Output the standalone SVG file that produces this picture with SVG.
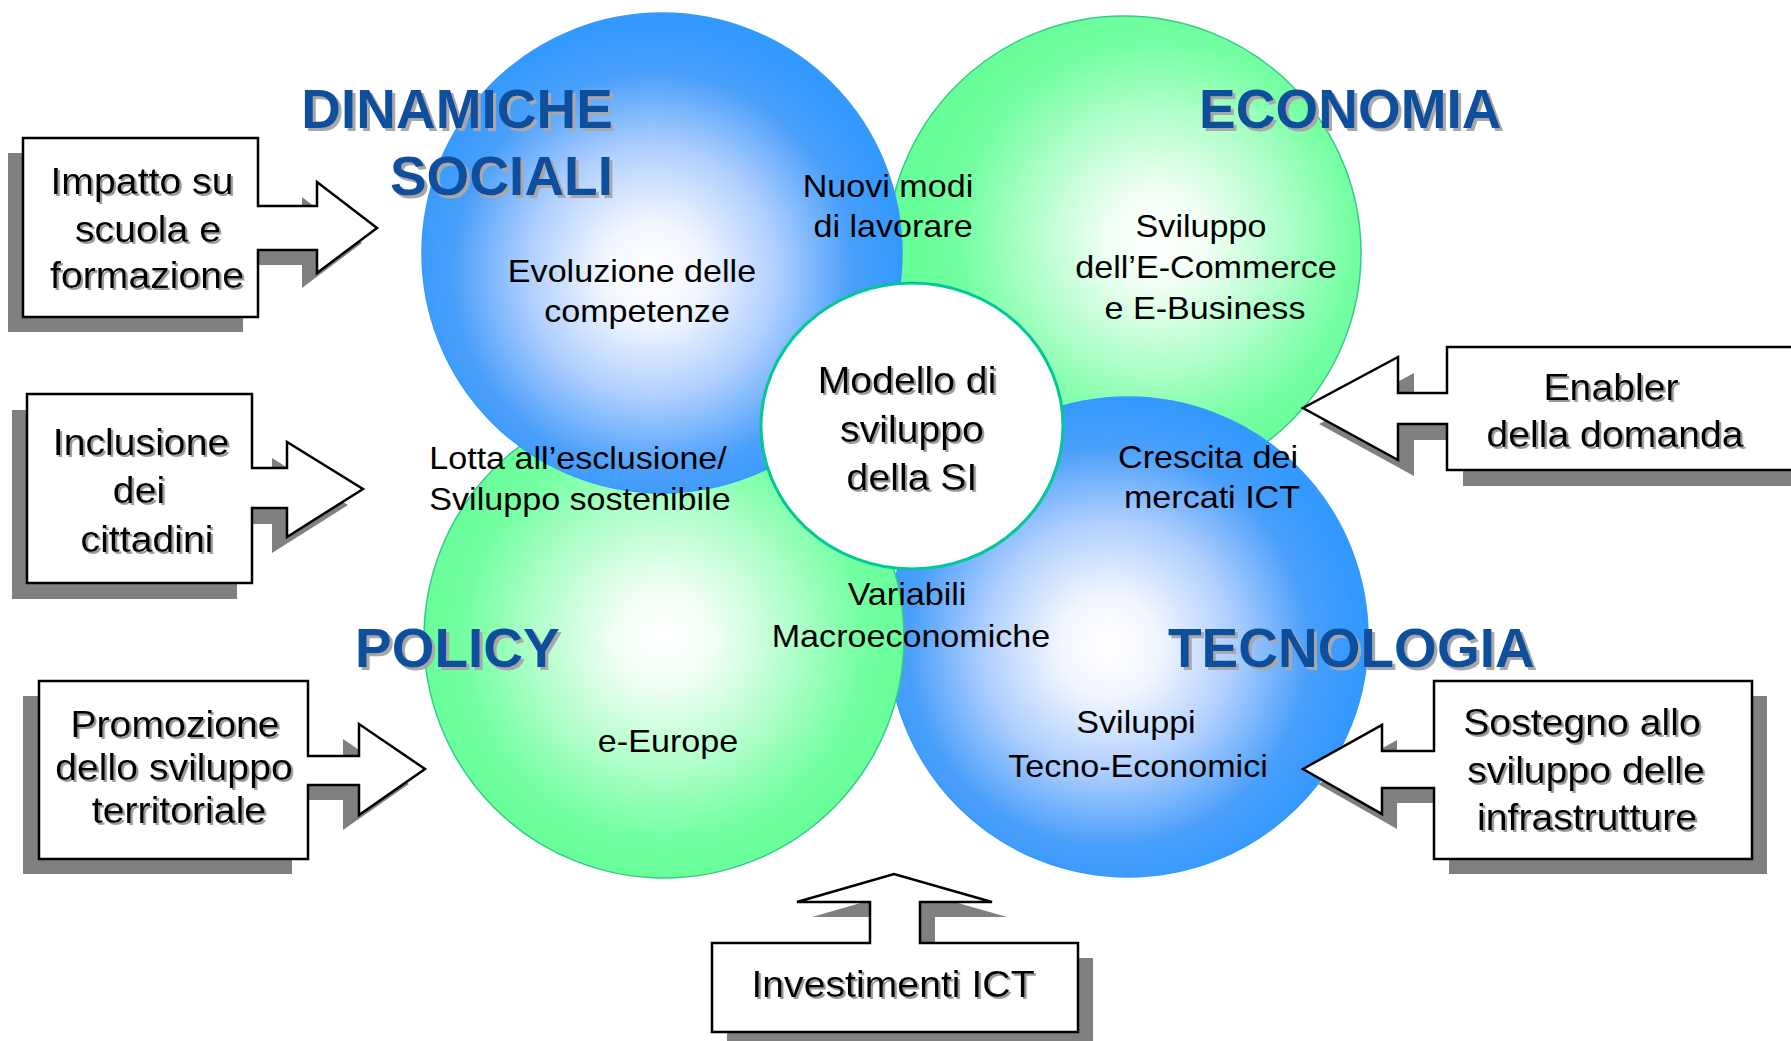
<svg xmlns="http://www.w3.org/2000/svg" width="1791" height="1041" viewBox="0 0 1791 1041">
<style>
.t{font-family:"Liberation Sans",Arial,sans-serif;text-anchor:middle;fill:#000}
.lbl{font-size:31px}
.call{font-size:37px;filter:url(#ts)}
.title{font-family:"Liberation Sans",Arial,sans-serif;font-weight:bold;font-size:55px;fill:#0b4f9c;filter:url(#tt)}
.co{fill:#fff;stroke:#000;stroke-width:2.5;stroke-linejoin:miter}
.sh{fill:#808080}
.cb{stroke:#3399ff;stroke-width:1.5}
.cg{stroke:#33cc88;stroke-width:1.5}
</style>
<defs>
<radialGradient id="gBlue1" cx="0.48" cy="0.54" r="0.52">
<stop offset="0" stop-color="#ffffff"/><stop offset="0.2" stop-color="#f2f6ff"/><stop offset="0.5" stop-color="#afcfff"/><stop offset="0.8" stop-color="#4a9ffa"/><stop offset="1" stop-color="#3399ff"/>
</radialGradient>
<radialGradient id="gBlue2" cx="0.46" cy="0.52" r="0.52">
<stop offset="0" stop-color="#ffffff"/><stop offset="0.2" stop-color="#f2f6ff"/><stop offset="0.5" stop-color="#afcfff"/><stop offset="0.8" stop-color="#4a9ffa"/><stop offset="1" stop-color="#3399ff"/>
</radialGradient>
<radialGradient id="gGreen1" cx="0.57" cy="0.47" r="0.52">
<stop offset="0" stop-color="#ffffff"/><stop offset="0.2" stop-color="#f0fff4"/><stop offset="0.5" stop-color="#b4ffcc"/><stop offset="0.8" stop-color="#74ffa2"/><stop offset="1" stop-color="#66ff99"/>
</radialGradient>
<radialGradient id="gGreen2" cx="0.5" cy="0.5" r="0.52">
<stop offset="0" stop-color="#ffffff"/><stop offset="0.2" stop-color="#f0fff4"/><stop offset="0.5" stop-color="#b4ffcc"/><stop offset="0.8" stop-color="#74ffa2"/><stop offset="1" stop-color="#66ff99"/>
</radialGradient>
<filter id="ts" x="-10%" y="-30%" width="120%" height="160%"><feDropShadow dx="2" dy="2" stdDeviation="0.6" flood-color="#999"/></filter>
<filter id="tt" x="-10%" y="-30%" width="120%" height="160%"><feDropShadow dx="3" dy="3" stdDeviation="0.4" flood-color="#a8a8a8"/></filter>
</defs>
<rect width="1791" height="1041" fill="#fff"/>

<g id="circle-economia"><circle cx="1124" cy="253" r="237" fill="url(#gGreen1)" class="cg"/></g>
<g id="circle-tecnologia"><circle cx="1128" cy="637" r="240" fill="url(#gBlue2)" class="cb"/></g>
<g id="circle-policy"><circle cx="664" cy="638" r="240" fill="url(#gGreen2)" class="cg"/></g>
<g id="circle-dinamiche"><circle cx="662" cy="253" r="240" fill="url(#gBlue1)" class="cb"/></g>
<g id="center">
<ellipse cx="912" cy="426" rx="151" ry="143" fill="#fff" stroke="#00c896" stroke-width="3"/>
<text class="t call" transform="translate(907,393) scale(1.06,1)">Modello di</text>
<text class="t call" transform="translate(912,442) scale(1.06,1)">sviluppo</text>
<text class="t call" transform="translate(912,490) scale(1.06,1)">della SI</text>
</g>

<g id="titles">
<text class="title" x="613" y="128" text-anchor="end">DINAMICHE</text>
<text class="title" x="613" y="195" text-anchor="end">SOCIALI</text>
<text class="title" x="1199" y="128">ECONOMIA</text>
<text class="title" x="355" y="667">POLICY</text>
<text class="title" x="1168" y="667">TECNOLOGIA</text>
</g>

<g id="labels">
<text class="t lbl" transform="translate(888,197) scale(1.1,1)">Nuovi modi</text>
<text class="t lbl" transform="translate(893,237) scale(1.1,1)">di lavorare</text>
<text class="t lbl" transform="translate(632,282) scale(1.1,1)">Evoluzione delle</text>
<text class="t lbl" transform="translate(637,322) scale(1.1,1)">competenze</text>
<text class="t lbl" transform="translate(1201,237) scale(1.1,1)">Sviluppo</text>
<text class="t lbl" transform="translate(1206,278) scale(1.1,1)">dell’E-Commerce</text>
<text class="t lbl" transform="translate(1205,319) scale(1.1,1)">e E-Business</text>
<text class="t lbl" transform="translate(578,469) scale(1.1,1)">Lotta all’esclusione/</text>
<text class="t lbl" transform="translate(580,510) scale(1.1,1)">Sviluppo sostenibile</text>
<text class="t lbl" transform="translate(1208,468) scale(1.1,1)">Crescita dei</text>
<text class="t lbl" transform="translate(1212,508) scale(1.1,1)">mercati ICT</text>
<text class="t lbl" transform="translate(907,605) scale(1.1,1)">Variabili</text>
<text class="t lbl" transform="translate(911,647) scale(1.1,1)">Macroeconomiche</text>
<text class="t lbl" transform="translate(668,752) scale(1.1,1)">e-Europe</text>
<text class="t lbl" transform="translate(1136,733) scale(1.1,1)">Sviluppi</text>
<text class="t lbl" transform="translate(1138,777) scale(1.1,1)">Tecno-Economici</text>
</g>

<g id="callout-impatto">
<path class="sh" transform="translate(-15,15)" d="M23,138 H258 V206 H317 V182 L377,228 L317,273 V250 H258 V317 H23 Z"/>
<path class="co" d="M23,138 H258 V206 H317 V182 L377,228 L317,273 V250 H258 V317 H23 Z"/>
<text class="t call" transform="translate(142,194) scale(1.06,1)">Impatto su</text>
<text class="t call" transform="translate(148,242) scale(1.06,1)">scuola e</text>
<text class="t call" transform="translate(147,288) scale(1.06,1)">formazione</text>
</g>
<g id="callout-inclusione">
<path class="sh" transform="translate(-15,16)" d="M27,394 H252 V468 H287 V442 L363,489 L287,537 V508 H252 V583 H27 Z"/>
<path class="co" d="M27,394 H252 V468 H287 V442 L363,489 L287,537 V508 H252 V583 H27 Z"/>
<text class="t call" transform="translate(141,455) scale(1.06,1)">Inclusione</text>
<text class="t call" transform="translate(139,503) scale(1.06,1)">dei</text>
<text class="t call" transform="translate(147,552) scale(1.06,1)">cittadini</text>
</g>
<g id="callout-promozione">
<path class="sh" transform="translate(-16,15)" d="M39,681 H308 V756 H359 V724 L425,769 L359,815 V785 H308 V859 H39 Z"/>
<path class="co" d="M39,681 H308 V756 H359 V724 L425,769 L359,815 V785 H308 V859 H39 Z"/>
<text class="t call" transform="translate(175,737) scale(1.06,1)">Promozione</text>
<text class="t call" transform="translate(174,780) scale(1.06,1)">dello sviluppo</text>
<text class="t call" transform="translate(179,823) scale(1.06,1)">territoriale</text>
</g>
<g id="callout-enabler">
<path class="sh" transform="translate(16,16)" d="M1810,347 H1447 V393 H1398 V357 L1303,408 L1398,460 V424 H1447 V470 H1810 Z"/>
<path class="co" d="M1810,347 H1447 V393 H1398 V357 L1303,408 L1398,460 V424 H1447 V470 H1810 Z"/>
<text class="t call" transform="translate(1611,400) scale(1.06,1)">Enabler</text>
<text class="t call" transform="translate(1615,447) scale(1.06,1)">della domanda</text>
</g>
<g id="callout-sostegno">
<path class="sh" transform="translate(15,15)" d="M1434,681 H1752 V859 H1434 V788 H1382 V814 L1303,769 L1382,725 V751 H1434 Z"/>
<path class="co" d="M1434,681 H1752 V859 H1434 V788 H1382 V814 L1303,769 L1382,725 V751 H1434 Z"/>
<text class="t call" transform="translate(1582,735) scale(1.06,1)">Sostegno allo</text>
<text class="t call" transform="translate(1586,783) scale(1.06,1)">sviluppo delle</text>
<text class="t call" transform="translate(1587,830) scale(1.06,1)">infrastrutture</text>
</g>
<g id="callout-investimenti">
<path class="sh" transform="translate(15,15)" d="M712,943 H870 V902 H797 L894,874 L992,902 H920 V943 H1078 V1032 H712 Z"/>
<path class="co" d="M712,943 H870 V902 H797 L894,874 L992,902 H920 V943 H1078 V1032 H712 Z"/>
<text class="t call" transform="translate(893,997) scale(1.06,1)">Investimenti ICT</text>
</g>
<g id="connectors"/>
</svg>
